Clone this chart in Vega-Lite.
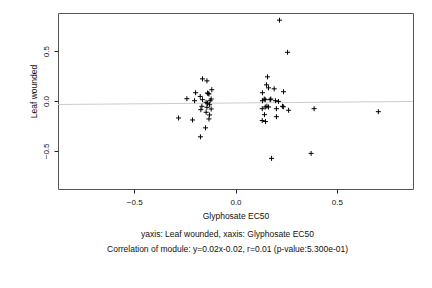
{
  "$schema": "https://vega.github.io/schema/vega-lite/v6.json",
  "autosize": "none",
  "width": 355,
  "height": 176,
  "padding": {"left": 58, "top": 13, "right": 19, "bottom": 99},
  "background": "white",
  "config": {
    "font": "Liberation Sans",
    "view": {"stroke": "#555555", "strokeWidth": 1},
    "axis": {"grid": false, "domain": false, "tickColor": "#222222", "labelColor": "#111111", "titleColor": "#111111", "labelFont": "Liberation Sans", "titleFont": "Liberation Sans", "titleFontWeight": "normal", "labelFontSize": 8, "titleFontSize": 8.5}
  },
  "title": {
    "text": ["yaxis: Leaf wounded, xaxis: Glyphosate EC50", "Correlation of module: y=0.02x-0.02, r=0.01 (p-value:5.300e-01)"],
    "orient": "bottom",
    "anchor": "middle",
    "fontSize": 8.5,
    "fontWeight": "normal",
    "font": "Liberation Sans",
    "color": "#111111",
    "lineHeight": 15,
    "offset": 10,
    "dx": -8
  },
  "datasets": {
    "pts": [
      {"x": 0.217, "y": 0.810}, {"x": 0.257, "y": 0.488}, {"x": 0.158, "y": 0.242}, {"x": 0.153, "y": 0.162},
      {"x": 0.163, "y": 0.132}, {"x": 0.191, "y": 0.122}, {"x": 0.237, "y": 0.093}, {"x": 0.133, "y": 0.083},
      {"x": 0.142, "y": 0.020}, {"x": 0.133, "y": 0.003}, {"x": 0.147, "y": 0.013}, {"x": 0.171, "y": 0.013},
      {"x": 0.174, "y": 0.020}, {"x": 0.197, "y": 0.003}, {"x": 0.212, "y": -0.004}, {"x": 0.232, "y": -0.053},
      {"x": 0.236, "y": -0.058}, {"x": 0.132, "y": -0.077}, {"x": 0.147, "y": -0.060}, {"x": 0.155, "y": -0.053},
      {"x": 0.163, "y": -0.060}, {"x": 0.202, "y": -0.077}, {"x": 0.262, "y": -0.093}, {"x": 0.143, "y": -0.137},
      {"x": 0.202, "y": -0.157}, {"x": 0.132, "y": -0.196}, {"x": 0.148, "y": -0.206}, {"x": 0.388, "y": -0.077},
      {"x": 0.705, "y": -0.107}, {"x": 0.373, "y": -0.525}, {"x": 0.178, "y": -0.575},
      {"x": -0.163, "y": 0.222}, {"x": -0.141, "y": 0.202}, {"x": -0.197, "y": 0.083}, {"x": -0.138, "y": 0.080},
      {"x": -0.131, "y": 0.070}, {"x": -0.135, "y": 0.075}, {"x": -0.117, "y": 0.113}, {"x": -0.174, "y": 0.046},
      {"x": -0.240, "y": 0.023}, {"x": -0.202, "y": 0.003}, {"x": -0.163, "y": 0.013}, {"x": -0.120, "y": 0.020},
      {"x": -0.125, "y": 0.003}, {"x": -0.145, "y": -0.013}, {"x": -0.138, "y": -0.023}, {"x": -0.166, "y": -0.053},
      {"x": -0.128, "y": -0.037}, {"x": -0.171, "y": -0.087}, {"x": -0.141, "y": -0.063}, {"x": -0.120, "y": -0.080},
      {"x": -0.145, "y": -0.113}, {"x": -0.128, "y": -0.140}, {"x": -0.131, "y": -0.180}, {"x": -0.281, "y": -0.170},
      {"x": -0.212, "y": -0.190}, {"x": -0.148, "y": -0.269}, {"x": -0.173, "y": -0.359}
    ],
    "fit": [
      {"x": -0.876, "y": -0.035, "x2": 0.876, "y2": -0.005}
    ]
  },
  "layer": [
    {
      "data": {"name": "fit"},
      "mark": {"type": "rule", "color": "#cccccc", "strokeWidth": 1},
      "encoding": {
        "x": {"field": "x", "type": "quantitative", "scale": {"domain": [-0.876, 0.876], "nice": false, "zero": false},
              "axis": {"values": [-0.5, 0, 0.5], "format": ".1f", "title": "Glyphosate EC50", "tickSize": 4, "labelPadding": 5, "titlePadding": 5}},
        "y": {"field": "y", "type": "quantitative", "scale": {"domain": [-0.882, 0.882], "nice": false, "zero": false},
              "axis": {"values": [-0.5, 0, 0.5], "format": ".1f", "title": "Leaf wounded", "tickSize": 4, "labelPadding": 4, "labelAngle": -90, "labelAlign": "center", "labelBaseline": "bottom", "titlePadding": 4, "titleY": 78}},
        "x2": {"field": "x2"},
        "y2": {"field": "y2"}
      }
    },
    {
      "data": {"name": "pts"},
      "mark": {"type": "point", "shape": "M-1,0H1M0,-1V1", "filled": false, "stroke": "black", "strokeWidth": 1, "size": 25, "opacity": 1},
      "encoding": {
        "x": {"field": "x", "type": "quantitative"},
        "y": {"field": "y", "type": "quantitative"}
      }
    }
  ]
}
